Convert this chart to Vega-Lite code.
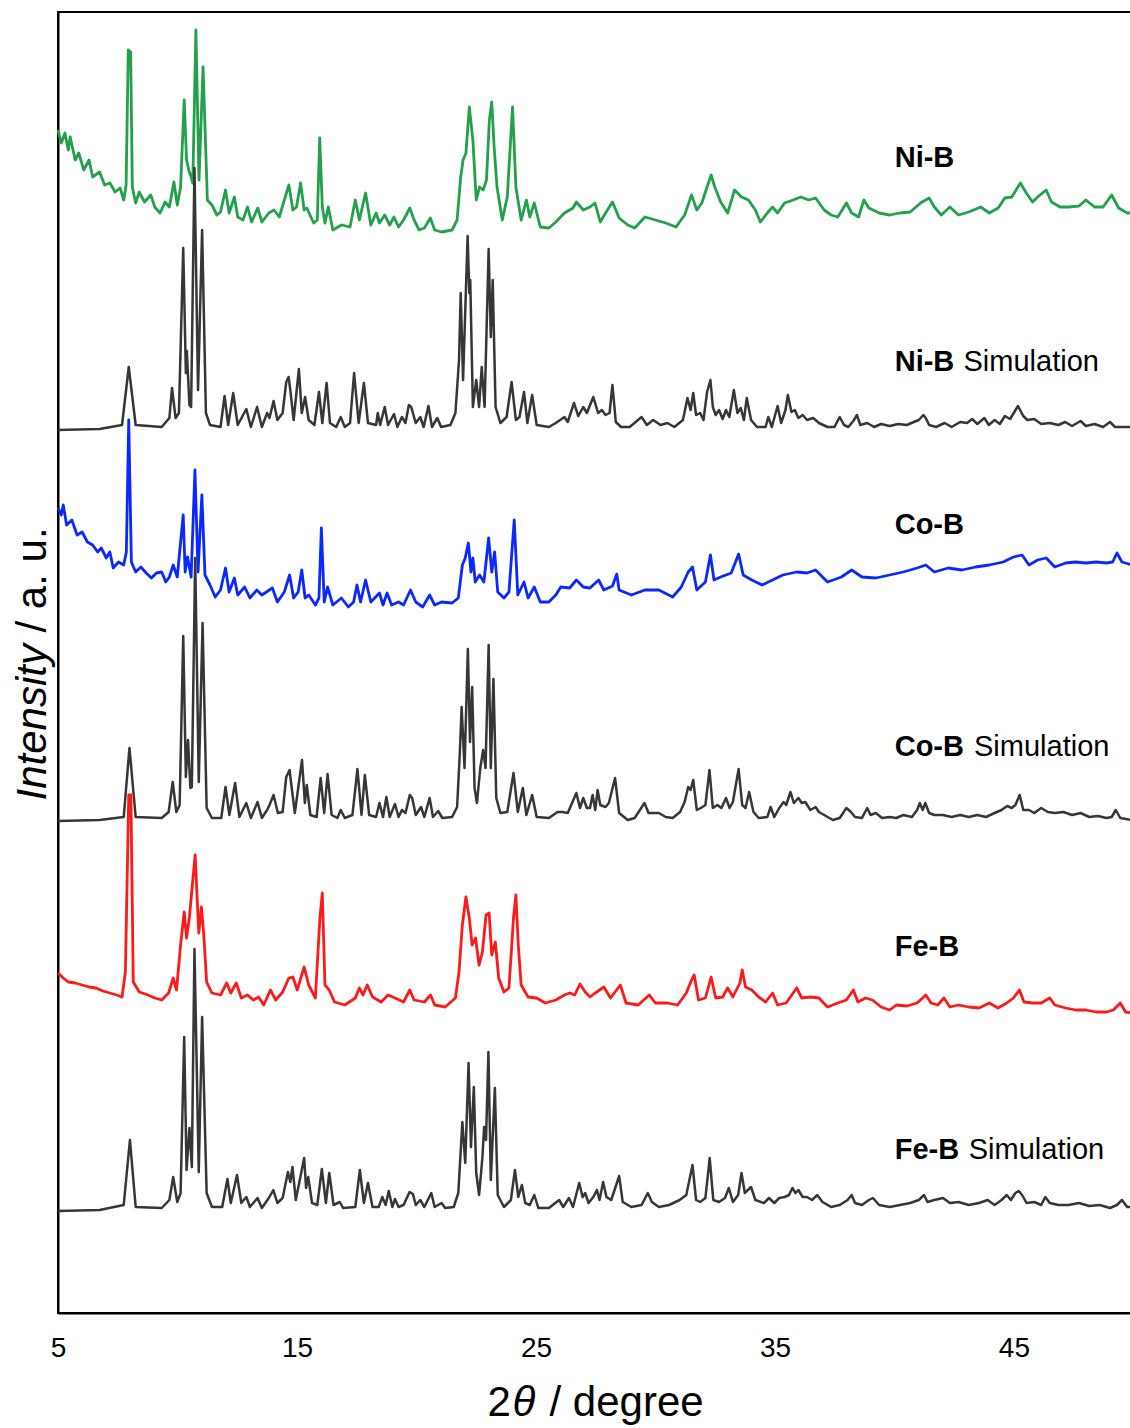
{
  "$schema": "https://vega.github.io/schema/vega-lite/v6.json",
  "width": 1074,
  "height": 1301,
  "autosize": {"type": "none"},
  "padding": {"left": 58, "top": 12, "right": 0, "bottom": 115},
  "config": {
    "view": {"stroke": "black", "strokeWidth": 2},
    "font": "Liberation Sans",
    "axis": {"grid": false, "labelFont": "Liberation Sans", "titleFont": "Liberation Sans", "titleColor": "black", "labelColor": "black", "titleFontWeight": "normal"}
  },
  "datasets": {
    "NiB": [{"t":5.00,"i":1183},{"t":5.14,"i":1170},{"t":5.29,"i":1180},{"t":5.43,"i":1163},{"t":5.51,"i":1176},{"t":5.72,"i":1153},{"t":5.87,"i":1160},{"t":6.08,"i":1143},{"t":6.30,"i":1153},{"t":6.45,"i":1136},{"t":6.74,"i":1141},{"t":6.95,"i":1128},{"t":7.17,"i":1130},{"t":7.39,"i":1121},{"t":7.60,"i":1125},{"t":7.75,"i":1113},{"t":7.85,"i":1128},{"t":7.94,"i":1263},{"t":8.04,"i":1261},{"t":8.11,"i":1126},{"t":8.25,"i":1110},{"t":8.40,"i":1121},{"t":8.62,"i":1111},{"t":8.88,"i":1118},{"t":9.05,"i":1106},{"t":9.27,"i":1100},{"t":9.48,"i":1111},{"t":9.66,"i":1106},{"t":9.85,"i":1131},{"t":9.99,"i":1108},{"t":10.13,"i":1126},{"t":10.28,"i":1213},{"t":10.38,"i":1153},{"t":10.47,"i":1143},{"t":10.57,"i":1136},{"t":10.64,"i":1130},{"t":10.77,"i":1283},{"t":10.90,"i":1133},{"t":11.07,"i":1246},{"t":11.25,"i":1113},{"t":11.44,"i":1108},{"t":11.65,"i":1098},{"t":11.80,"i":1101},{"t":12.01,"i":1123},{"t":12.16,"i":1100},{"t":12.38,"i":1116},{"t":12.52,"i":1096},{"t":12.74,"i":1093},{"t":12.93,"i":1106},{"t":13.10,"i":1091},{"t":13.36,"i":1105},{"t":13.53,"i":1091},{"t":13.82,"i":1100},{"t":14.04,"i":1103},{"t":14.26,"i":1096},{"t":14.47,"i":1113},{"t":14.66,"i":1128},{"t":14.83,"i":1103},{"t":14.98,"i":1106},{"t":15.15,"i":1130},{"t":15.30,"i":1103},{"t":15.41,"i":1105},{"t":15.70,"i":1090},{"t":15.85,"i":1093},{"t":15.95,"i":1175},{"t":16.06,"i":1106},{"t":16.17,"i":1090},{"t":16.31,"i":1106},{"t":16.50,"i":1083},{"t":16.86,"i":1088},{"t":17.22,"i":1086},{"t":17.44,"i":1113},{"t":17.61,"i":1093},{"t":17.87,"i":1120},{"t":18.09,"i":1088},{"t":18.31,"i":1100},{"t":18.45,"i":1090},{"t":18.67,"i":1098},{"t":18.88,"i":1088},{"t":19.06,"i":1096},{"t":19.25,"i":1086},{"t":19.46,"i":1093},{"t":19.72,"i":1105},{"t":19.90,"i":1093},{"t":20.11,"i":1083},{"t":20.33,"i":1085},{"t":20.58,"i":1095},{"t":20.76,"i":1083},{"t":21.05,"i":1081},{"t":21.49,"i":1083},{"t":21.70,"i":1093},{"t":21.85,"i":1136},{"t":21.95,"i":1153},{"t":22.07,"i":1160},{"t":22.21,"i":1206},{"t":22.36,"i":1173},{"t":22.50,"i":1113},{"t":22.64,"i":1126},{"t":22.79,"i":1123},{"t":22.93,"i":1133},{"t":23.05,"i":1193},{"t":23.15,"i":1211},{"t":23.25,"i":1166},{"t":23.37,"i":1126},{"t":23.59,"i":1093},{"t":23.80,"i":1116},{"t":24.02,"i":1206},{"t":24.16,"i":1126},{"t":24.38,"i":1093},{"t":24.60,"i":1113},{"t":24.74,"i":1096},{"t":24.93,"i":1110},{"t":25.18,"i":1086},{"t":25.54,"i":1085},{"t":25.83,"i":1091},{"t":26.19,"i":1100},{"t":26.55,"i":1105},{"t":26.69,"i":1111},{"t":26.98,"i":1103},{"t":27.26,"i":1106},{"t":27.47,"i":1110},{"t":27.69,"i":1091},{"t":27.91,"i":1100},{"t":28.20,"i":1111},{"t":28.48,"i":1095},{"t":28.84,"i":1088},{"t":29.13,"i":1085},{"t":29.56,"i":1096},{"t":30.00,"i":1093},{"t":30.43,"i":1090},{"t":30.86,"i":1086},{"t":31.22,"i":1098},{"t":31.51,"i":1118},{"t":31.73,"i":1103},{"t":31.94,"i":1110},{"t":32.16,"i":1126},{"t":32.33,"i":1138},{"t":32.48,"i":1126},{"t":32.73,"i":1111},{"t":33.02,"i":1100},{"t":33.31,"i":1123},{"t":33.60,"i":1116},{"t":33.89,"i":1113},{"t":34.18,"i":1103},{"t":34.39,"i":1091},{"t":34.68,"i":1100},{"t":34.90,"i":1106},{"t":35.11,"i":1100},{"t":35.40,"i":1110},{"t":35.76,"i":1113},{"t":36.08,"i":1116},{"t":36.41,"i":1113},{"t":36.70,"i":1115},{"t":37.06,"i":1103},{"t":37.35,"i":1098},{"t":37.63,"i":1096},{"t":37.99,"i":1110},{"t":38.21,"i":1100},{"t":38.50,"i":1096},{"t":38.72,"i":1113},{"t":38.93,"i":1105},{"t":39.36,"i":1100},{"t":39.80,"i":1098},{"t":40.23,"i":1100},{"t":40.66,"i":1101},{"t":41.09,"i":1110},{"t":41.45,"i":1115},{"t":41.67,"i":1106},{"t":41.96,"i":1098},{"t":42.32,"i":1106},{"t":42.68,"i":1098},{"t":43.11,"i":1101},{"t":43.61,"i":1106},{"t":43.97,"i":1100},{"t":44.34,"i":1105},{"t":44.62,"i":1115},{"t":44.91,"i":1116},{"t":45.27,"i":1130},{"t":45.49,"i":1121},{"t":45.78,"i":1111},{"t":45.99,"i":1116},{"t":46.35,"i":1123},{"t":46.57,"i":1111},{"t":46.93,"i":1106},{"t":47.29,"i":1106},{"t":47.72,"i":1107},{"t":48.01,"i":1113},{"t":48.37,"i":1106},{"t":48.73,"i":1106},{"t":49.09,"i":1118},{"t":49.38,"i":1105},{"t":49.74,"i":1100},{"t":49.94,"i":1100}],
    "NiBsim": [{"t":5.00,"i":883},{"t":6.74,"i":884},{"t":7.68,"i":888},{"t":7.96,"i":946},{"t":8.25,"i":888},{"t":9.34,"i":886},{"t":9.66,"i":895},{"t":9.77,"i":925},{"t":9.92,"i":895},{"t":10.06,"i":900},{"t":10.24,"i":1065},{"t":10.35,"i":940},{"t":10.39,"i":962},{"t":10.50,"i":908},{"t":10.57,"i":906},{"t":10.71,"i":1145},{"t":10.86,"i":923},{"t":11.03,"i":1083},{"t":11.19,"i":900},{"t":11.36,"i":888},{"t":11.80,"i":886},{"t":11.97,"i":917},{"t":12.12,"i":888},{"t":12.33,"i":920},{"t":12.52,"i":888},{"t":12.88,"i":904},{"t":13.07,"i":886},{"t":13.33,"i":906},{"t":13.53,"i":886},{"t":13.75,"i":900},{"t":13.85,"i":895},{"t":14.02,"i":912},{"t":14.18,"i":893},{"t":14.40,"i":900},{"t":14.55,"i":931},{"t":14.65,"i":936},{"t":14.72,"i":923},{"t":14.86,"i":893},{"t":15.08,"i":944},{"t":15.20,"i":900},{"t":15.34,"i":916},{"t":15.49,"i":893},{"t":15.73,"i":888},{"t":15.92,"i":921},{"t":16.06,"i":890},{"t":16.24,"i":930},{"t":16.38,"i":890},{"t":16.64,"i":886},{"t":16.83,"i":896},{"t":17.00,"i":886},{"t":17.22,"i":890},{"t":17.39,"i":940},{"t":17.58,"i":890},{"t":17.80,"i":930},{"t":17.97,"i":890},{"t":18.31,"i":888},{"t":18.38,"i":900},{"t":18.48,"i":888},{"t":18.67,"i":906},{"t":18.81,"i":888},{"t":19.06,"i":899},{"t":19.20,"i":886},{"t":19.39,"i":896},{"t":19.54,"i":890},{"t":19.68,"i":908},{"t":19.78,"i":906},{"t":19.97,"i":890},{"t":20.16,"i":896},{"t":20.30,"i":886},{"t":20.50,"i":907},{"t":20.65,"i":886},{"t":20.87,"i":895},{"t":21.03,"i":886},{"t":21.42,"i":888},{"t":21.63,"i":900},{"t":21.78,"i":953},{"t":21.85,"i":1020},{"t":21.95,"i":933},{"t":22.14,"i":1077},{"t":22.21,"i":1020},{"t":22.25,"i":1033},{"t":22.36,"i":906},{"t":22.50,"i":933},{"t":22.62,"i":906},{"t":22.73,"i":946},{"t":22.85,"i":906},{"t":23.02,"i":1064},{"t":23.11,"i":976},{"t":23.19,"i":1033},{"t":23.31,"i":906},{"t":23.51,"i":890},{"t":23.77,"i":896},{"t":23.98,"i":931},{"t":24.16,"i":893},{"t":24.31,"i":896},{"t":24.50,"i":921},{"t":24.64,"i":890},{"t":24.84,"i":918},{"t":25.03,"i":888},{"t":25.54,"i":886},{"t":25.83,"i":890},{"t":26.19,"i":896},{"t":26.33,"i":891},{"t":26.59,"i":910},{"t":26.77,"i":897},{"t":26.98,"i":906},{"t":27.13,"i":900},{"t":27.40,"i":916},{"t":27.60,"i":900},{"t":27.76,"i":903},{"t":27.91,"i":898},{"t":28.08,"i":900},{"t":28.20,"i":928},{"t":28.34,"i":891},{"t":28.56,"i":886},{"t":28.92,"i":886},{"t":29.42,"i":896},{"t":29.64,"i":888},{"t":29.90,"i":893},{"t":30.21,"i":888},{"t":30.50,"i":890},{"t":30.79,"i":886},{"t":31.15,"i":893},{"t":31.34,"i":915},{"t":31.47,"i":903},{"t":31.58,"i":920},{"t":31.70,"i":898},{"t":31.87,"i":900},{"t":32.01,"i":893},{"t":32.16,"i":921},{"t":32.30,"i":933},{"t":32.40,"i":906},{"t":32.52,"i":898},{"t":32.66,"i":903},{"t":32.81,"i":894},{"t":32.95,"i":903},{"t":33.09,"i":896},{"t":33.28,"i":923},{"t":33.43,"i":900},{"t":33.57,"i":905},{"t":33.70,"i":893},{"t":33.82,"i":915},{"t":34.00,"i":893},{"t":34.25,"i":886},{"t":34.61,"i":886},{"t":34.72,"i":896},{"t":34.87,"i":886},{"t":35.11,"i":907},{"t":35.26,"i":890},{"t":35.44,"i":903},{"t":35.54,"i":918},{"t":35.69,"i":901},{"t":35.83,"i":903},{"t":35.98,"i":895},{"t":36.16,"i":898},{"t":36.34,"i":893},{"t":36.60,"i":895},{"t":36.84,"i":890},{"t":37.20,"i":886},{"t":37.49,"i":886},{"t":37.71,"i":896},{"t":37.89,"i":888},{"t":38.07,"i":886},{"t":38.28,"i":892},{"t":38.43,"i":898},{"t":38.57,"i":888},{"t":38.86,"i":890},{"t":39.15,"i":886},{"t":39.44,"i":889},{"t":39.80,"i":887},{"t":40.16,"i":889},{"t":40.52,"i":888},{"t":40.81,"i":891},{"t":41.02,"i":893},{"t":41.21,"i":898},{"t":41.31,"i":895},{"t":41.45,"i":888},{"t":41.74,"i":886},{"t":42.10,"i":890},{"t":42.39,"i":886},{"t":42.75,"i":891},{"t":43.04,"i":890},{"t":43.25,"i":894},{"t":43.47,"i":889},{"t":43.76,"i":895},{"t":43.95,"i":888},{"t":44.19,"i":893},{"t":44.41,"i":889},{"t":44.62,"i":897},{"t":44.84,"i":894},{"t":45.17,"i":907},{"t":45.39,"i":897},{"t":45.56,"i":893},{"t":45.85,"i":894},{"t":46.14,"i":889},{"t":46.50,"i":890},{"t":46.86,"i":888},{"t":47.14,"i":891},{"t":47.43,"i":887},{"t":47.79,"i":892},{"t":48.01,"i":887},{"t":48.37,"i":889},{"t":48.73,"i":886},{"t":49.02,"i":891},{"t":49.23,"i":886},{"t":49.74,"i":886},{"t":49.94,"i":886}],
    "CoB": [{"t":5.00,"i":805},{"t":5.14,"i":798},{"t":5.22,"i":808},{"t":5.36,"i":788},{"t":5.58,"i":793},{"t":5.80,"i":778},{"t":6.01,"i":781},{"t":6.23,"i":771},{"t":6.45,"i":768},{"t":6.66,"i":761},{"t":6.81,"i":765},{"t":7.02,"i":755},{"t":7.17,"i":761},{"t":7.31,"i":745},{"t":7.53,"i":751},{"t":7.75,"i":748},{"t":7.86,"i":761},{"t":7.96,"i":893},{"t":8.07,"i":751},{"t":8.25,"i":741},{"t":8.47,"i":746},{"t":8.69,"i":740},{"t":8.91,"i":735},{"t":9.12,"i":740},{"t":9.34,"i":741},{"t":9.51,"i":731},{"t":9.66,"i":736},{"t":9.82,"i":748},{"t":9.99,"i":736},{"t":10.24,"i":798},{"t":10.32,"i":741},{"t":10.42,"i":756},{"t":10.57,"i":736},{"t":10.73,"i":843},{"t":10.86,"i":741},{"t":11.02,"i":818},{"t":11.15,"i":738},{"t":11.36,"i":728},{"t":11.58,"i":716},{"t":11.80,"i":723},{"t":12.01,"i":745},{"t":12.16,"i":721},{"t":12.38,"i":735},{"t":12.52,"i":718},{"t":12.81,"i":726},{"t":13.03,"i":715},{"t":13.32,"i":723},{"t":13.53,"i":718},{"t":13.97,"i":725},{"t":14.18,"i":711},{"t":14.47,"i":721},{"t":14.69,"i":738},{"t":14.86,"i":715},{"t":15.05,"i":721},{"t":15.20,"i":743},{"t":15.34,"i":715},{"t":15.49,"i":718},{"t":15.77,"i":708},{"t":15.92,"i":715},{"t":16.02,"i":785},{"t":16.14,"i":711},{"t":16.28,"i":726},{"t":16.50,"i":708},{"t":16.86,"i":715},{"t":17.15,"i":706},{"t":17.37,"i":711},{"t":17.51,"i":728},{"t":17.66,"i":711},{"t":17.87,"i":733},{"t":18.09,"i":711},{"t":18.45,"i":720},{"t":18.60,"i":708},{"t":18.77,"i":720},{"t":18.96,"i":708},{"t":19.25,"i":711},{"t":19.46,"i":708},{"t":19.75,"i":723},{"t":19.97,"i":711},{"t":20.26,"i":706},{"t":20.55,"i":718},{"t":20.76,"i":708},{"t":21.05,"i":711},{"t":21.49,"i":710},{"t":21.75,"i":715},{"t":21.92,"i":748},{"t":22.04,"i":755},{"t":22.17,"i":770},{"t":22.28,"i":741},{"t":22.36,"i":755},{"t":22.46,"i":731},{"t":22.64,"i":738},{"t":22.82,"i":731},{"t":23.02,"i":775},{"t":23.15,"i":741},{"t":23.27,"i":761},{"t":23.40,"i":721},{"t":23.66,"i":715},{"t":23.87,"i":721},{"t":24.09,"i":793},{"t":24.24,"i":718},{"t":24.50,"i":731},{"t":24.67,"i":715},{"t":24.93,"i":726},{"t":25.18,"i":711},{"t":25.54,"i":711},{"t":25.83,"i":718},{"t":26.04,"i":726},{"t":26.41,"i":725},{"t":26.69,"i":733},{"t":26.98,"i":726},{"t":27.26,"i":725},{"t":27.62,"i":733},{"t":27.84,"i":723},{"t":28.20,"i":727},{"t":28.38,"i":739},{"t":28.48,"i":723},{"t":28.99,"i":718},{"t":29.56,"i":723},{"t":30.14,"i":723},{"t":30.72,"i":716},{"t":31.08,"i":726},{"t":31.37,"i":741},{"t":31.55,"i":746},{"t":31.73,"i":723},{"t":32.09,"i":731},{"t":32.30,"i":758},{"t":32.45,"i":733},{"t":32.73,"i":736},{"t":33.17,"i":740},{"t":33.48,"i":759},{"t":33.67,"i":738},{"t":34.03,"i":733},{"t":34.46,"i":728},{"t":34.90,"i":733},{"t":35.33,"i":738},{"t":35.91,"i":741},{"t":36.34,"i":740},{"t":36.70,"i":743},{"t":37.20,"i":731},{"t":37.78,"i":736},{"t":38.21,"i":743},{"t":38.64,"i":736},{"t":39.22,"i":735},{"t":39.80,"i":738},{"t":40.37,"i":741},{"t":40.95,"i":745},{"t":41.31,"i":748},{"t":41.67,"i":741},{"t":42.25,"i":745},{"t":42.82,"i":743},{"t":43.40,"i":746},{"t":43.97,"i":748},{"t":44.55,"i":751},{"t":44.98,"i":756},{"t":45.34,"i":758},{"t":45.63,"i":748},{"t":45.99,"i":753},{"t":46.35,"i":755},{"t":46.71,"i":746},{"t":47.16,"i":750},{"t":47.58,"i":751},{"t":48.01,"i":750},{"t":48.44,"i":751},{"t":48.87,"i":750},{"t":49.13,"i":751},{"t":49.31,"i":760},{"t":49.52,"i":751},{"t":49.94,"i":748}],
    "CoBsim": [{"t":5.00,"i":492},{"t":6.74,"i":493},{"t":7.75,"i":496},{"t":7.99,"i":565},{"t":8.25,"i":496},{"t":9.34,"i":495},{"t":9.63,"i":501},{"t":9.80,"i":531},{"t":9.95,"i":501},{"t":10.09,"i":508},{"t":10.24,"i":677},{"t":10.35,"i":536},{"t":10.44,"i":573},{"t":10.54,"i":525},{"t":10.60,"i":526},{"t":10.74,"i":755},{"t":10.89,"i":531},{"t":11.05,"i":690},{"t":11.22,"i":505},{"t":11.44,"i":495},{"t":11.83,"i":495},{"t":12.01,"i":526},{"t":12.17,"i":498},{"t":12.41,"i":530},{"t":12.59,"i":496},{"t":12.88,"i":510},{"t":13.07,"i":495},{"t":13.35,"i":511},{"t":13.53,"i":495},{"t":13.75,"i":503},{"t":13.85,"i":508},{"t":14.02,"i":518},{"t":14.20,"i":500},{"t":14.40,"i":501},{"t":14.55,"i":536},{"t":14.69,"i":543},{"t":14.78,"i":525},{"t":14.91,"i":500},{"t":15.21,"i":553},{"t":15.33,"i":510},{"t":15.41,"i":528},{"t":15.56,"i":498},{"t":15.82,"i":496},{"t":15.99,"i":535},{"t":16.14,"i":500},{"t":16.28,"i":539},{"t":16.45,"i":498},{"t":16.69,"i":495},{"t":16.83,"i":503},{"t":17.00,"i":495},{"t":17.32,"i":498},{"t":17.53,"i":544},{"t":17.70,"i":498},{"t":17.84,"i":538},{"t":18.02,"i":498},{"t":18.31,"i":496},{"t":18.45,"i":510},{"t":18.60,"i":496},{"t":18.74,"i":516},{"t":18.88,"i":496},{"t":19.10,"i":509},{"t":19.25,"i":496},{"t":19.39,"i":503},{"t":19.54,"i":500},{"t":19.72,"i":518},{"t":19.82,"i":515},{"t":19.97,"i":498},{"t":20.19,"i":506},{"t":20.33,"i":496},{"t":20.55,"i":515},{"t":20.69,"i":496},{"t":20.91,"i":502},{"t":21.08,"i":495},{"t":21.49,"i":496},{"t":21.70,"i":506},{"t":21.81,"i":558},{"t":21.89,"i":606},{"t":22.01,"i":545},{"t":22.15,"i":664},{"t":22.24,"i":571},{"t":22.33,"i":626},{"t":22.43,"i":525},{"t":22.53,"i":510},{"t":22.67,"i":545},{"t":22.79,"i":563},{"t":22.89,"i":545},{"t":23.02,"i":668},{"t":23.11,"i":545},{"t":23.22,"i":634},{"t":23.34,"i":515},{"t":23.51,"i":500},{"t":23.80,"i":501},{"t":24.06,"i":540},{"t":24.24,"i":501},{"t":24.45,"i":525},{"t":24.60,"i":498},{"t":24.84,"i":518},{"t":25.03,"i":496},{"t":25.54,"i":495},{"t":25.90,"i":501},{"t":26.12,"i":501},{"t":26.33,"i":500},{"t":26.69,"i":520},{"t":26.84,"i":505},{"t":26.98,"i":515},{"t":27.13,"i":505},{"t":27.26,"i":505},{"t":27.37,"i":518},{"t":27.48,"i":503},{"t":27.58,"i":523},{"t":27.69,"i":508},{"t":27.91,"i":506},{"t":28.05,"i":510},{"t":28.31,"i":535},{"t":28.48,"i":500},{"t":28.84,"i":493},{"t":29.13,"i":495},{"t":29.54,"i":510},{"t":29.71,"i":500},{"t":30.14,"i":500},{"t":30.43,"i":496},{"t":30.72,"i":495},{"t":31.03,"i":501},{"t":31.22,"i":511},{"t":31.37,"i":526},{"t":31.47,"i":523},{"t":31.58,"i":533},{"t":31.73,"i":503},{"t":31.90,"i":505},{"t":32.09,"i":508},{"t":32.26,"i":543},{"t":32.40,"i":505},{"t":32.59,"i":508},{"t":32.76,"i":505},{"t":32.95,"i":515},{"t":33.10,"i":505},{"t":33.24,"i":511},{"t":33.48,"i":544},{"t":33.63,"i":508},{"t":33.77,"i":505},{"t":33.92,"i":521},{"t":34.10,"i":501},{"t":34.32,"i":495},{"t":34.68,"i":496},{"t":34.82,"i":506},{"t":34.97,"i":496},{"t":35.18,"i":505},{"t":35.36,"i":511},{"t":35.47,"i":508},{"t":35.65,"i":521},{"t":35.79,"i":510},{"t":35.98,"i":515},{"t":36.12,"i":510},{"t":36.27,"i":511},{"t":36.48,"i":503},{"t":36.70,"i":506},{"t":36.84,"i":501},{"t":37.06,"i":498},{"t":37.42,"i":493},{"t":37.71,"i":495},{"t":37.99,"i":505},{"t":38.18,"i":501},{"t":38.35,"i":496},{"t":38.64,"i":495},{"t":38.86,"i":505},{"t":39.00,"i":498},{"t":39.22,"i":500},{"t":39.48,"i":495},{"t":39.80,"i":496},{"t":40.08,"i":495},{"t":40.37,"i":498},{"t":40.73,"i":496},{"t":40.95,"i":503},{"t":41.06,"i":510},{"t":41.18,"i":503},{"t":41.29,"i":510},{"t":41.45,"i":500},{"t":41.67,"i":498},{"t":42.03,"i":498},{"t":42.39,"i":496},{"t":42.75,"i":498},{"t":43.11,"i":496},{"t":43.47,"i":498},{"t":43.83,"i":496},{"t":44.19,"i":500},{"t":44.48,"i":503},{"t":44.72,"i":507},{"t":44.91,"i":505},{"t":45.06,"i":508},{"t":45.24,"i":518},{"t":45.39,"i":503},{"t":45.63,"i":503},{"t":45.85,"i":500},{"t":46.14,"i":505},{"t":46.42,"i":501},{"t":46.71,"i":500},{"t":47.07,"i":501},{"t":47.43,"i":498},{"t":47.79,"i":500},{"t":48.15,"i":496},{"t":48.51,"i":497},{"t":48.87,"i":495},{"t":49.09,"i":496},{"t":49.26,"i":503},{"t":49.45,"i":495},{"t":49.94,"i":493}],
    "FeB": [{"t":5.00,"i":340},{"t":5.22,"i":335},{"t":5.43,"i":331},{"t":5.72,"i":330},{"t":6.01,"i":328},{"t":6.30,"i":326},{"t":6.59,"i":325},{"t":6.88,"i":322},{"t":7.17,"i":320},{"t":7.46,"i":318},{"t":7.68,"i":316},{"t":7.82,"i":341},{"t":7.96,"i":518},{"t":8.05,"i":518},{"t":8.15,"i":331},{"t":8.40,"i":321},{"t":8.76,"i":318},{"t":9.05,"i":315},{"t":9.34,"i":313},{"t":9.63,"i":320},{"t":9.82,"i":335},{"t":9.96,"i":323},{"t":10.13,"i":368},{"t":10.28,"i":401},{"t":10.38,"i":375},{"t":10.50,"i":396},{"t":10.61,"i":425},{"t":10.74,"i":458},{"t":10.89,"i":380},{"t":11.00,"i":406},{"t":11.10,"i":378},{"t":11.22,"i":331},{"t":11.44,"i":320},{"t":11.80,"i":318},{"t":12.06,"i":330},{"t":12.23,"i":320},{"t":12.46,"i":330},{"t":12.67,"i":315},{"t":12.93,"i":318},{"t":13.17,"i":313},{"t":13.39,"i":316},{"t":13.61,"i":308},{"t":13.89,"i":323},{"t":14.11,"i":313},{"t":14.40,"i":321},{"t":14.66,"i":335},{"t":14.83,"i":336},{"t":15.01,"i":323},{"t":15.30,"i":346},{"t":15.49,"i":328},{"t":15.77,"i":315},{"t":15.96,"i":395},{"t":16.06,"i":420},{"t":16.17,"i":328},{"t":16.35,"i":323},{"t":16.57,"i":311},{"t":17.00,"i":308},{"t":17.44,"i":315},{"t":17.61,"i":325},{"t":17.76,"i":318},{"t":17.94,"i":328},{"t":18.16,"i":316},{"t":18.52,"i":311},{"t":18.81,"i":318},{"t":19.10,"i":315},{"t":19.46,"i":311},{"t":19.72,"i":323},{"t":19.90,"i":313},{"t":20.33,"i":311},{"t":20.59,"i":318},{"t":20.76,"i":308},{"t":21.20,"i":306},{"t":21.63,"i":315},{"t":21.78,"i":341},{"t":21.92,"i":388},{"t":22.07,"i":416},{"t":22.21,"i":395},{"t":22.33,"i":368},{"t":22.47,"i":375},{"t":22.62,"i":348},{"t":22.76,"i":361},{"t":22.91,"i":398},{"t":23.04,"i":400},{"t":23.15,"i":358},{"t":23.30,"i":371},{"t":23.44,"i":335},{"t":23.66,"i":321},{"t":23.87,"i":325},{"t":24.06,"i":395},{"t":24.16,"i":418},{"t":24.26,"i":368},{"t":24.38,"i":328},{"t":24.67,"i":316},{"t":25.03,"i":315},{"t":25.39,"i":310},{"t":25.83,"i":313},{"t":26.19,"i":318},{"t":26.41,"i":320},{"t":26.62,"i":318},{"t":26.84,"i":329},{"t":27.06,"i":321},{"t":27.26,"i":316},{"t":27.48,"i":320},{"t":27.84,"i":326},{"t":28.12,"i":315},{"t":28.53,"i":328},{"t":28.77,"i":310},{"t":29.28,"i":308},{"t":29.74,"i":318},{"t":30.00,"i":310},{"t":30.50,"i":310},{"t":30.93,"i":308},{"t":31.29,"i":320},{"t":31.51,"i":333},{"t":31.62,"i":338},{"t":31.80,"i":313},{"t":32.09,"i":315},{"t":32.33,"i":336},{"t":32.52,"i":315},{"t":32.81,"i":316},{"t":33.02,"i":325},{"t":33.24,"i":316},{"t":33.53,"i":330},{"t":33.63,"i":343},{"t":33.77,"i":326},{"t":34.03,"i":323},{"t":34.32,"i":316},{"t":34.61,"i":311},{"t":34.90,"i":320},{"t":35.11,"i":308},{"t":35.47,"i":310},{"t":35.91,"i":325},{"t":36.12,"i":315},{"t":36.48,"i":316},{"t":36.84,"i":315},{"t":37.20,"i":306},{"t":37.63,"i":310},{"t":37.99,"i":313},{"t":38.28,"i":323},{"t":38.47,"i":311},{"t":38.79,"i":315},{"t":39.08,"i":313},{"t":39.44,"i":306},{"t":39.80,"i":303},{"t":40.08,"i":308},{"t":40.52,"i":307},{"t":40.95,"i":310},{"t":41.31,"i":318},{"t":41.53,"i":310},{"t":41.81,"i":308},{"t":42.07,"i":315},{"t":42.32,"i":306},{"t":42.68,"i":308},{"t":43.11,"i":306},{"t":43.54,"i":305},{"t":43.97,"i":310},{"t":44.33,"i":305},{"t":44.70,"i":310},{"t":44.98,"i":315},{"t":45.23,"i":323},{"t":45.42,"i":311},{"t":45.78,"i":310},{"t":46.14,"i":310},{"t":46.50,"i":315},{"t":46.71,"i":308},{"t":47.16,"i":305},{"t":47.58,"i":303},{"t":48.01,"i":303},{"t":48.44,"i":301},{"t":48.87,"i":301},{"t":49.16,"i":303},{"t":49.45,"i":310},{"t":49.67,"i":301},{"t":49.94,"i":300}],
    "FeBsim": [{"t":5.00,"i":102},{"t":6.74,"i":103},{"t":7.75,"i":108},{"t":8.01,"i":173},{"t":8.25,"i":106},{"t":9.34,"i":105},{"t":9.66,"i":113},{"t":9.82,"i":136},{"t":9.99,"i":111},{"t":10.13,"i":120},{"t":10.28,"i":276},{"t":10.38,"i":143},{"t":10.50,"i":185},{"t":10.60,"i":146},{"t":10.71,"i":364},{"t":10.89,"i":141},{"t":11.03,"i":296},{"t":11.22,"i":120},{"t":11.44,"i":106},{"t":11.87,"i":106},{"t":12.09,"i":134},{"t":12.23,"i":110},{"t":12.49,"i":138},{"t":12.67,"i":110},{"t":12.88,"i":116},{"t":13.03,"i":106},{"t":13.35,"i":115},{"t":13.53,"i":105},{"t":13.82,"i":115},{"t":14.01,"i":123},{"t":14.18,"i":110},{"t":14.40,"i":115},{"t":14.62,"i":141},{"t":14.72,"i":131},{"t":14.81,"i":146},{"t":14.95,"i":113},{"t":15.30,"i":155},{"t":15.38,"i":125},{"t":15.47,"i":136},{"t":15.63,"i":110},{"t":15.85,"i":108},{"t":16.04,"i":144},{"t":16.21,"i":110},{"t":16.35,"i":140},{"t":16.53,"i":108},{"t":16.79,"i":111},{"t":16.93,"i":105},{"t":17.44,"i":106},{"t":17.63,"i":143},{"t":17.80,"i":110},{"t":17.97,"i":130},{"t":18.16,"i":106},{"t":18.42,"i":106},{"t":18.57,"i":116},{"t":18.71,"i":108},{"t":18.84,"i":122},{"t":18.99,"i":106},{"t":19.10,"i":114},{"t":19.25,"i":106},{"t":19.46,"i":108},{"t":19.71,"i":121},{"t":19.85,"i":119},{"t":19.97,"i":108},{"t":20.16,"i":113},{"t":20.33,"i":106},{"t":20.62,"i":120},{"t":20.76,"i":106},{"t":21.05,"i":110},{"t":21.20,"i":105},{"t":21.56,"i":106},{"t":21.75,"i":120},{"t":21.92,"i":191},{"t":22.04,"i":150},{"t":22.18,"i":250},{"t":22.28,"i":166},{"t":22.40,"i":226},{"t":22.50,"i":140},{"t":22.62,"i":118},{"t":22.76,"i":156},{"t":22.83,"i":186},{"t":22.91,"i":173},{"t":23.01,"i":261},{"t":23.11,"i":133},{"t":23.28,"i":225},{"t":23.40,"i":118},{"t":23.66,"i":106},{"t":23.95,"i":113},{"t":24.12,"i":143},{"t":24.26,"i":116},{"t":24.41,"i":128},{"t":24.55,"i":110},{"t":24.74,"i":108},{"t":24.93,"i":118},{"t":25.10,"i":105},{"t":25.54,"i":105},{"t":25.97,"i":113},{"t":26.14,"i":106},{"t":26.38,"i":115},{"t":26.55,"i":106},{"t":26.81,"i":130},{"t":26.95,"i":116},{"t":27.06,"i":120},{"t":27.20,"i":110},{"t":27.40,"i":116},{"t":27.55,"i":123},{"t":27.66,"i":113},{"t":27.81,"i":131},{"t":27.95,"i":116},{"t":28.15,"i":113},{"t":28.48,"i":137},{"t":28.63,"i":111},{"t":28.99,"i":106},{"t":29.42,"i":108},{"t":29.68,"i":120},{"t":29.85,"i":111},{"t":30.14,"i":106},{"t":30.57,"i":108},{"t":31.01,"i":113},{"t":31.29,"i":118},{"t":31.55,"i":148},{"t":31.70,"i":113},{"t":31.87,"i":111},{"t":32.09,"i":115},{"t":32.27,"i":155},{"t":32.42,"i":113},{"t":32.66,"i":111},{"t":32.91,"i":115},{"t":33.07,"i":125},{"t":33.24,"i":111},{"t":33.46,"i":118},{"t":33.60,"i":140},{"t":33.74,"i":120},{"t":34.00,"i":126},{"t":34.18,"i":113},{"t":34.54,"i":110},{"t":34.75,"i":115},{"t":34.97,"i":110},{"t":35.18,"i":115},{"t":35.40,"i":116},{"t":35.59,"i":118},{"t":35.73,"i":125},{"t":35.86,"i":120},{"t":35.98,"i":123},{"t":36.16,"i":116},{"t":36.34,"i":116},{"t":36.55,"i":113},{"t":36.77,"i":118},{"t":36.99,"i":111},{"t":37.35,"i":106},{"t":37.71,"i":108},{"t":38.04,"i":113},{"t":38.21,"i":118},{"t":38.35,"i":110},{"t":38.64,"i":108},{"t":38.93,"i":113},{"t":39.10,"i":115},{"t":39.36,"i":108},{"t":39.80,"i":106},{"t":40.23,"i":108},{"t":40.66,"i":110},{"t":41.02,"i":113},{"t":41.24,"i":118},{"t":41.38,"i":111},{"t":41.67,"i":113},{"t":42.03,"i":115},{"t":42.32,"i":110},{"t":42.68,"i":111},{"t":43.11,"i":108},{"t":43.54,"i":110},{"t":43.90,"i":113},{"t":44.19,"i":108},{"t":44.48,"i":113},{"t":44.70,"i":118},{"t":44.87,"i":113},{"t":45.06,"i":120},{"t":45.20,"i":122},{"t":45.34,"i":118},{"t":45.53,"i":110},{"t":45.85,"i":111},{"t":46.14,"i":108},{"t":46.31,"i":116},{"t":46.50,"i":110},{"t":46.86,"i":108},{"t":47.29,"i":108},{"t":47.72,"i":110},{"t":48.15,"i":107},{"t":48.59,"i":108},{"t":49.02,"i":105},{"t":49.31,"i":108},{"t":49.52,"i":113},{"t":49.74,"i":106},{"t":49.94,"i":106}],
    "names": [{"t":40.01,"i":1155,"txt":"Ni-B"},{"t":40.01,"i":951,"txt":"Ni-B"},{"t":40.01,"i":788,"txt":"Co-B"},{"t":40.01,"i":566,"txt":"Co-B"},{"t":40.01,"i":366,"txt":"Fe-B"},{"t":40.01,"i":163,"txt":"Fe-B"}],
    "suffixes": [{"t":42.89,"i":951,"txt":"Simulation"},{"t":43.33,"i":566,"txt":"Simulation"},{"t":43.11,"i":163,"txt":"Simulation"}]
  },
  "layer": [
    {
      "encoding": {
        "x": {"field": "t", "type": "quantitative", "scale": {"domain": [5, 49.94], "nice": false, "zero": false},
          "axis": {"orient": "bottom", "values": [5, 15, 25, 35, 45], "labelFontSize": 28, "labelFlush": false, "labelPadding": 21, "ticks": false, "domainColor": "black", "domainWidth": 2,
            "title": "2", "titleFontSize": 42, "titleX": 429, "titleY": 102, "titleAlign": "left", "titleBaseline": "alphabetic", "titleAnchor": null}},
        "y": {"field": "i", "type": "quantitative", "scale": {"domain": [0, 1301], "nice": false, "zero": false},
          "axis": {"orient": "left", "labels": false, "ticks": false, "domainColor": "black", "domainWidth": 2,
            "title": "Intensity", "titleFontStyle": "italic", "titleFontSize": 42, "titleAngle": -90, "titleAlign": "left", "titleBaseline": "alphabetic", "titleX": -13, "titleY": 788}}
      },
      "layer": [
        {"data": {"name": "NiB"}, "mark": {"type": "line", "color": "#22a04b", "strokeWidth": 2.8, "strokeJoin": "round"}},
        {"data": {"name": "NiBsim"}, "mark": {"type": "line", "color": "#363636", "strokeWidth": 2.5, "strokeJoin": "round"}},
        {"data": {"name": "CoB"}, "mark": {"type": "line", "color": "#0a28ff", "strokeWidth": 2.8, "strokeJoin": "round"}},
        {"data": {"name": "CoBsim"}, "mark": {"type": "line", "color": "#363636", "strokeWidth": 2.5, "strokeJoin": "round"}},
        {"data": {"name": "FeB"}, "mark": {"type": "line", "color": "#ff1a1a", "strokeWidth": 2.8, "strokeJoin": "round"}},
        {"data": {"name": "FeBsim"}, "mark": {"type": "line", "color": "#363636", "strokeWidth": 2.5, "strokeJoin": "round"}}
      ]
    },
    {
      "data": {"name": "names"},
      "mark": {"type": "text", "font": "Liberation Sans", "fontWeight": "bold", "fontSize": 29, "align": "left", "baseline": "middle", "color": "black"},
      "encoding": {
        "x": {"field": "t", "type": "quantitative", "scale": {"domain": [5, 49.94], "nice": false, "zero": false},
          "axis": {"orient": "bottom", "labels": false, "ticks": false, "domain": false, "title": "θ", "titleFontStyle": "italic", "titleFontSize": 42, "titleX": 454, "titleY": 102, "titleAlign": "left", "titleBaseline": "alphabetic"}},
        "y": {"field": "i", "type": "quantitative", "scale": {"domain": [0, 1301], "nice": false, "zero": false}, "axis": null},
        "text": {"field": "txt"}
      }
    },
    {
      "data": {"name": "suffixes"},
      "mark": {"type": "text", "font": "Liberation Sans", "fontSize": 29, "align": "left", "baseline": "middle", "color": "black"},
      "encoding": {
        "x": {"field": "t", "type": "quantitative", "scale": {"domain": [5, 49.94], "nice": false, "zero": false},
          "axis": {"orient": "bottom", "labels": false, "ticks": false, "domain": false, "title": "/ degree", "titleFontSize": 42, "titleX": 491, "titleY": 102, "titleAlign": "left", "titleBaseline": "alphabetic"}},
        "y": {"field": "i", "type": "quantitative", "scale": {"domain": [0, 1301], "nice": false, "zero": false},
          "axis": {"orient": "left", "labels": false, "ticks": false, "domain": false, "title": "/ a. u.", "titleFontSize": 42, "titleAngle": -90, "titleAlign": "left", "titleBaseline": "alphabetic", "titleX": -13, "titleY": 620}},
        "text": {"field": "txt"}
      }
    }
  ],
  "resolve": {"scale": {"x": "independent", "y": "independent"}}
}
